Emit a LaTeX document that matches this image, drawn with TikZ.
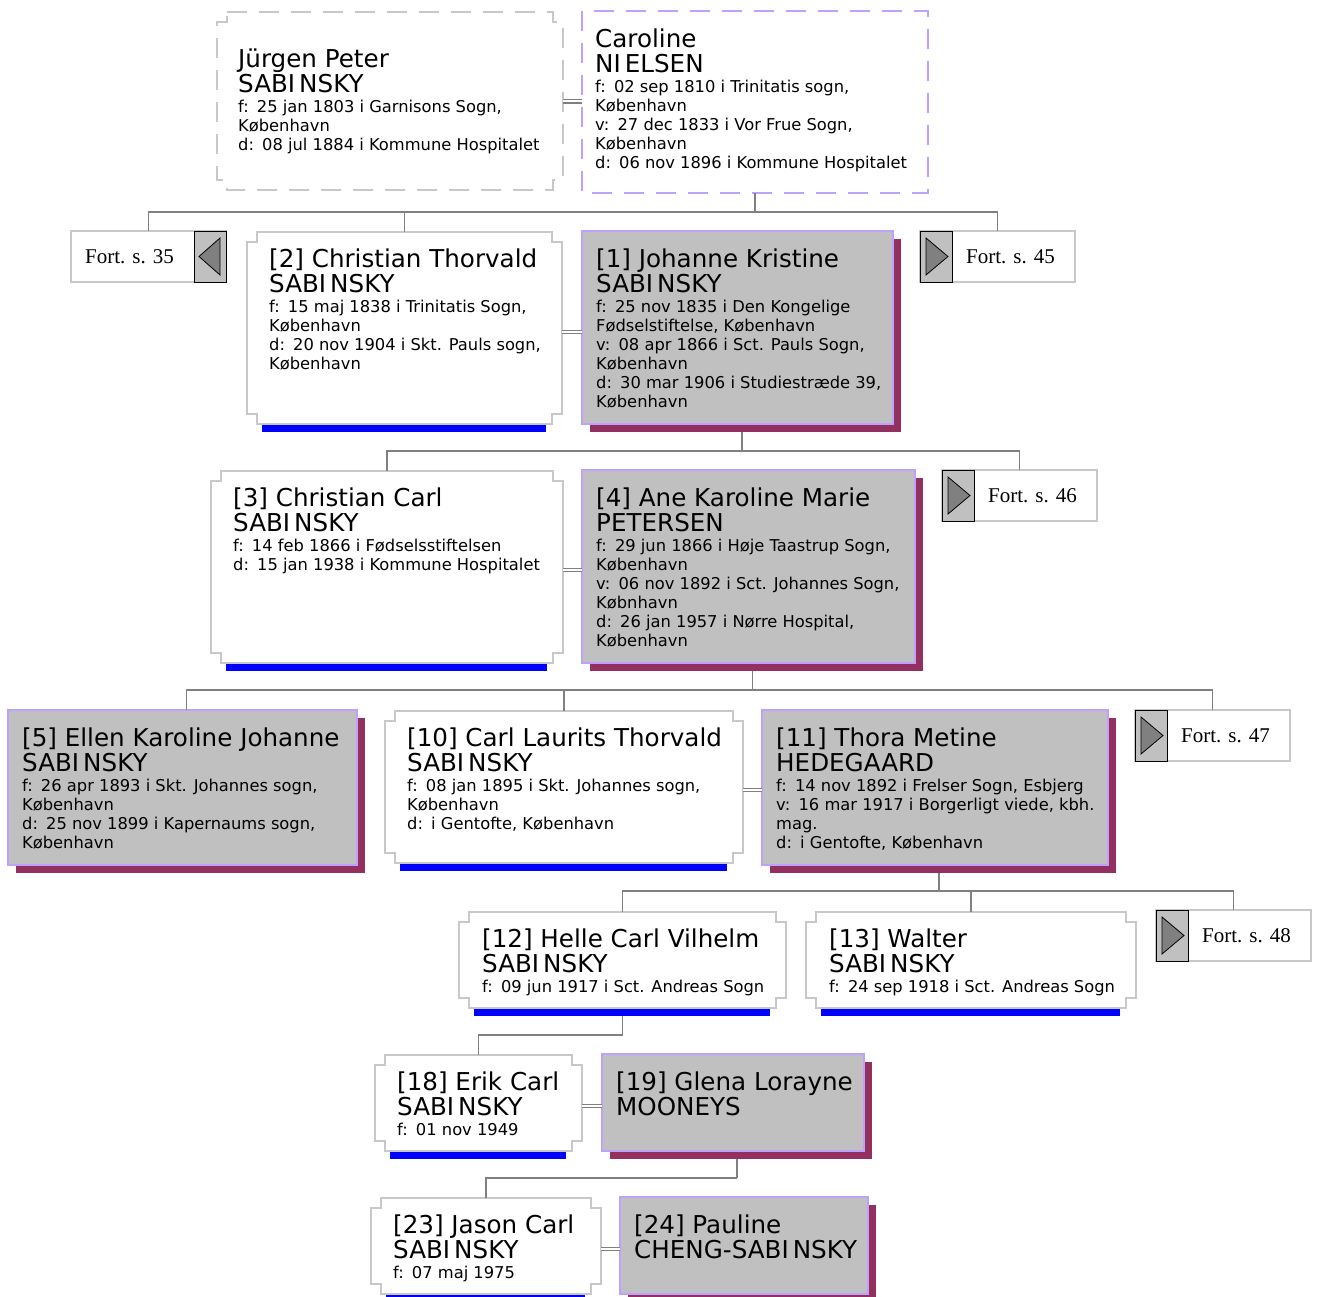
\documentclass[tikz,border=0pt]{standalone}
\usepackage{fontspec}
\setmainfont{DejaVu Sans}
\newfontfamily\fortfont{Liberation Serif}
\usetikzlibrary{calc}
\definecolor{boxgray}{RGB}{192,192,192}
\definecolor{lav}{RGB}{190,160,255}
\definecolor{shad}{RGB}{148,48,96}
\definecolor{conncol}{RGB}{128,128,128}
\definecolor{mborder}{RGB}{200,200,200}
\definecolor{barblue}{RGB}{0,0,255}
\definecolor{tricol}{RGB}{128,128,128}
\newcommand\nmfont{\fontsize{24.6}{25}\selectfont\spaceskip=0pt\xspaceskip=0pt}
\newcommand\dtfont{\fontsize{16.3}{19}\selectfont\spaceskip=0pt\xspaceskip=0pt}
\newcommand\fgap{\hspace{0.5em}}
\newcommand\pname[1]{{\nmfont #1\par}}
\newcommand\pdet[1]{\vspace{1.5pt}{\dtfont #1\par}}
\newcommand\SAB{SABI\kern4pt NSKY}
\newcommand\notchbox[2]{%
  \draw[#2] ($(#1.north west)+(10,0)$) -- ($(#1.north east)+(-10,0)$) -- ++(0,10) -- ++(10,0)
    -- ($(#1.south east)+(0,-10)$) -- ++(-10,0) -- ++(0,10) -- ($(#1.south west)+(10,0)$)
    -- ++(0,-10) -- ++(-10,0) -- ($(#1.north west)+(0,10)$) -- ++(10,0) -- cycle;}
\newcommand\maleDeco[1]{%
  \fill[barblue] ($(#1.south west)+(15,0)$) rectangle ($(#1.south east)+(-16,8)$);
  \notchbox{#1}{mline}}
\newcommand\grayDeco[1]{%
  \fill[shad] ($(#1.north west)+(8,8)$) rectangle ($(#1.south east)+(8,8)$);
  \draw[gbox] (#1.north west) rectangle (#1.south east);}
\newcommand\fortR[4]{%
  \node[fortbox] (#1) at (#2,#3) {};
  \node[fortico,anchor=north west] (#1i) at (#1.north west) {};
  \draw[tristyle] ($(#1i.east)+(-4,0)$) -- ($(#1i.north west)+(6,7)$) -- ($(#1i.south west)+(6,-7)$) -- cycle;
  \node[forttxt] (#1t) at ($(#1.west)+(46,0)$) {#4};}
\begin{document}
\begin{tikzpicture}[x=1pt,y=-1pt,
  conn/.style={draw=conncol,line width=1.6pt},
  marr/.style={draw=conncol,double=white,double distance=2pt,line width=1.1pt},
  area/.style={anchor=north west,inner sep=0pt,outer sep=0pt},
  gbox/.style={fill=boxgray,draw=lav,line width=1.6pt},
  mline/.style={draw=mborder,fill=white,line width=1.6pt},
  fortbox/.style={area,minimum width=155pt,minimum height=51pt,draw=mborder,fill=white,line width=1.6pt},
  fortico/.style={inner sep=0pt,outer sep=0pt,minimum width=32pt,minimum height=51pt,draw=black,line width=0.8pt,fill=boxgray},
  tristyle/.style={fill=tricol,draw=black,line width=0.8pt,line join=miter},
  forttxt/.style={anchor=west,inner sep=0pt,font=\fortfont\fontsize{21}{24}\selectfont},
  ptxt/.style={anchor=north west,inner sep=0pt,text width=420pt,align=left}
]
\useasboundingbox[fill=white] (0,0) rectangle (1319,1297);

% box areas
\node[area,minimum width=346pt,minimum height=178pt] (jur) at (217,12) {};
\node[area,minimum width=346pt,minimum height=182pt] (car) at (582,11) {};
\node[area,minimum width=315pt,minimum height=192pt] (p2) at (247,232) {};
\node[area,minimum width=311pt,minimum height=193pt] (p1) at (582,231) {};
\node[area,minimum width=352pt,minimum height=192pt] (p3) at (211,471) {};
\node[area,minimum width=333pt,minimum height=193pt] (p4) at (582,470) {};
\node[area,minimum width=349pt,minimum height=155pt] (p5) at (8,710) {};
\node[area,minimum width=358pt,minimum height=152pt] (p10) at (385,711) {};
\node[area,minimum width=346pt,minimum height=155pt] (p11) at (762,710) {};
\node[area,minimum width=327pt,minimum height=96pt] (p12) at (459,912) {};
\node[area,minimum width=330pt,minimum height=96pt] (p13) at (806,912) {};
\node[area,minimum width=207pt,minimum height=96pt] (p18) at (375,1055) {};
\node[area,minimum width=262pt,minimum height=97pt] (p19) at (602,1054) {};
\node[area,minimum width=230pt,minimum height=96pt] (p23) at (371,1198) {};
\node[area,minimum width=248pt,minimum height=97pt] (p24) at (620,1197) {};

% top dashed couple
\notchbox{jur}{draw=mborder,line width=1.6pt,dash pattern=on 20pt off 12pt}
\draw[draw=lav,line width=1.6pt,dash pattern=on 20pt off 12pt] (car.north west) rectangle (car.south east);

% decorations
\maleDeco{p2}
\grayDeco{p1}
\maleDeco{p3}
\grayDeco{p4}
\grayDeco{p5}
\maleDeco{p10}
\grayDeco{p11}
\maleDeco{p12}
\maleDeco{p13}
\maleDeco{p18}
\grayDeco{p19}
\maleDeco{p23}
\grayDeco{p24}

% continuation boxes
\node[fortbox] (f35) at (71,231) {};
\node[fortico,anchor=north east] (f35i) at (f35.north east) {};
\draw[tristyle] ($(f35i.west)+(5,0)$) -- ($(f35i.north east)+(-6,7)$) -- ($(f35i.south east)+(-6,-7)$) -- cycle;
\node[forttxt] (f35t) at ($(f35.west)+(14,0)$) {Fort. s. 35};
\fortR{f45}{920}{231}{Fort. s. 45}
\fortR{f46}{942}{470}{Fort. s. 46}
\fortR{f47}{1135}{710}{Fort. s. 47}
\fortR{f48}{1156}{910}{Fort. s. 48}

% connectors
\draw[marr] ($(jur.east)+(0,0.5)$) -- ($(car.west |- jur.east)+(0,0.5)$);
\draw[conn] (car.south) -- ++(0,19) coordinate (h1);
\draw[conn] (f35.north) |- (h1) -| (f45.north);
\draw[conn] (p2.north) -- (p2.north |- h1);
\draw[marr] ($(p2.east)+(0,4)$) -- ($(p1.west |- p2.east)+(0,4)$);

\draw[conn] ($(p1.south)+(4.5,8)$) -- ++(0,19) coordinate (h2);
\draw[conn] (p3.north) |- (h2) -| (f46.north);
\draw[marr] ($(p3.east)+(0,3)$) -- ($(p4.west |- p3.east)+(0,3)$);

\draw[conn] ($(p4.south)+(4,8)$) -- ++(0,19) coordinate (h3);
\draw[conn] ($(p5.north)+(4,0)$) |- (h3) -| (f47.north);
\draw[conn] (p10.north) -- (p10.north |- h3);
\draw[marr] ($(p10.east)+(0,3)$) -- ($(p11.west |- p10.east)+(0,3)$);

\draw[conn] ($(p11.south)+(4,8)$) -- ++(0,18) coordinate (h4);
\draw[conn] (p12.north) |- (h4) -| (f48.north);
\draw[conn] (p13.north) -- (p13.north |- h4);

\draw[conn] ($(p12.south)+(0,8)$) -- ++(0,19) coordinate (h5);
\draw[conn] (p18.north) |- (h5);
\draw[marr] ($(p18.east)+(0,3)$) -- ($(p19.west |- p18.east)+(0,3)$);

\draw[conn] ($(p19.south)+(4,8)$) -- ++(0,19) coordinate (h6);
\draw[conn] (p23.north) |- (h6);
\draw[marr] ($(p23.east)+(0,3)$) -- ($(p24.west |- p23.east)+(0,3)$);

% texts
\node[ptxt] (tjur) at ($(jur.north west)+(21,36.5)$) {\pname{Jürgen Peter\\ \SAB}\pdet{f:\fgap 25 jan 1803 i Garnisons Sogn,\\ København\\ d:\fgap 08 jul 1884 i Kommune Hospitalet}};
\node[ptxt] (tcar) at ($(car.north west)+(13,17.5)$) {\pname{Caroline\\ NI\kern4pt ELSEN}\pdet{f:\fgap 02 sep 1810 i Trinitatis sogn,\\ København\\ v:\fgap 27 dec 1833 i Vor Frue Sogn,\\ København\\ d:\fgap 06 nov 1896 i Kommune Hospitalet}};
\node[ptxt] (t2) at ($(p2.north west)+(22,16.5)$) {\pname{[2] Christian Thorvald\\ \SAB}\pdet{f:\fgap 15 maj 1838 i Trinitatis Sogn,\\ København\\ d:\fgap 20 nov 1904 i Skt. Pauls sogn,\\ København}};
\node[ptxt] (t1) at ($(p1.north west)+(14,17.5)$) {\pname{[1] Johanne Kristine\\ \SAB}\pdet{f:\fgap 25 nov 1835 i Den Kongelige\\ Fødselstiftelse, København\\ v:\fgap 08 apr 1866 i Sct. Pauls Sogn,\\ København\\ d:\fgap 30 mar 1906 i Studiestræde 39,\\ København}};
\node[ptxt] (t3) at ($(p3.north west)+(22,16.5)$) {\pname{[3] Christian Carl\\ \SAB}\pdet{f:\fgap 14 feb 1866 i Fødselsstiftelsen\\ d:\fgap 15 jan 1938 i Kommune Hospitalet}};
\node[ptxt] (t4) at ($(p4.north west)+(14,17.5)$) {\pname{[4] Ane Karoline Marie\\ PETERSEN}\pdet{f:\fgap 29 jun 1866 i Høje Taastrup Sogn,\\ København\\ v:\fgap 06 nov 1892 i Sct. Johannes Sogn,\\ Købnhavn\\ d:\fgap 26 jan 1957 i Nørre Hospital,\\ København}};
\node[ptxt] (t5) at ($(p5.north west)+(14,17.5)$) {\pname{[5] Ellen Karoline Johanne\\ \SAB}\pdet{f:\fgap 26 apr 1893 i Skt. Johannes sogn,\\ København\\ d:\fgap 25 nov 1899 i Kapernaums sogn,\\ København}};
\node[ptxt] (t10) at ($(p10.north west)+(22,16.5)$) {\pname{[10] Carl Laurits Thorvald\\ \SAB}\pdet{f:\fgap 08 jan 1895 i Skt. Johannes sogn,\\ København\\ d:\fgap i Gentofte, København}};
\node[ptxt] (t11) at ($(p11.north west)+(14,17.5)$) {\pname{[11] Thora Metine\\ HEDEGAARD}\pdet{f:\fgap 14 nov 1892 i Frelser Sogn, Esbjerg\\ v:\fgap 16 mar 1917 i Borgerligt viede, kbh.\\ mag.\\ d:\fgap i Gentofte, København}};
\node[ptxt] (t12) at ($(p12.north west)+(23,16.5)$) {\pname{[12] Helle Carl Vilhelm\\ \SAB}\pdet{f:\fgap 09 jun 1917 i Sct. Andreas Sogn}};
\node[ptxt] (t13) at ($(p13.north west)+(23,16.5)$) {\pname{[13] Walter\\ \SAB}\pdet{f:\fgap 24 sep 1918 i Sct. Andreas Sogn}};
\node[ptxt] (t18) at ($(p18.north west)+(22,16.5)$) {\pname{[18] Erik Carl\\ \SAB}\pdet{f:\fgap 01 nov 1949}};
\node[ptxt] (t19) at ($(p19.north west)+(14,17.5)$) {\pname{[19] Glena Lorayne\\ MOONEYS}};
\node[ptxt] (t23) at ($(p23.north west)+(22,16.5)$) {\pname{[23] Jason Carl\\ \SAB}\pdet{f:\fgap 07 maj 1975}};
\node[ptxt] (t24) at ($(p24.north west)+(14,17.5)$) {\pname{[24] Pauline\\ CHENG-\SAB}};
\end{tikzpicture}
\end{document}
